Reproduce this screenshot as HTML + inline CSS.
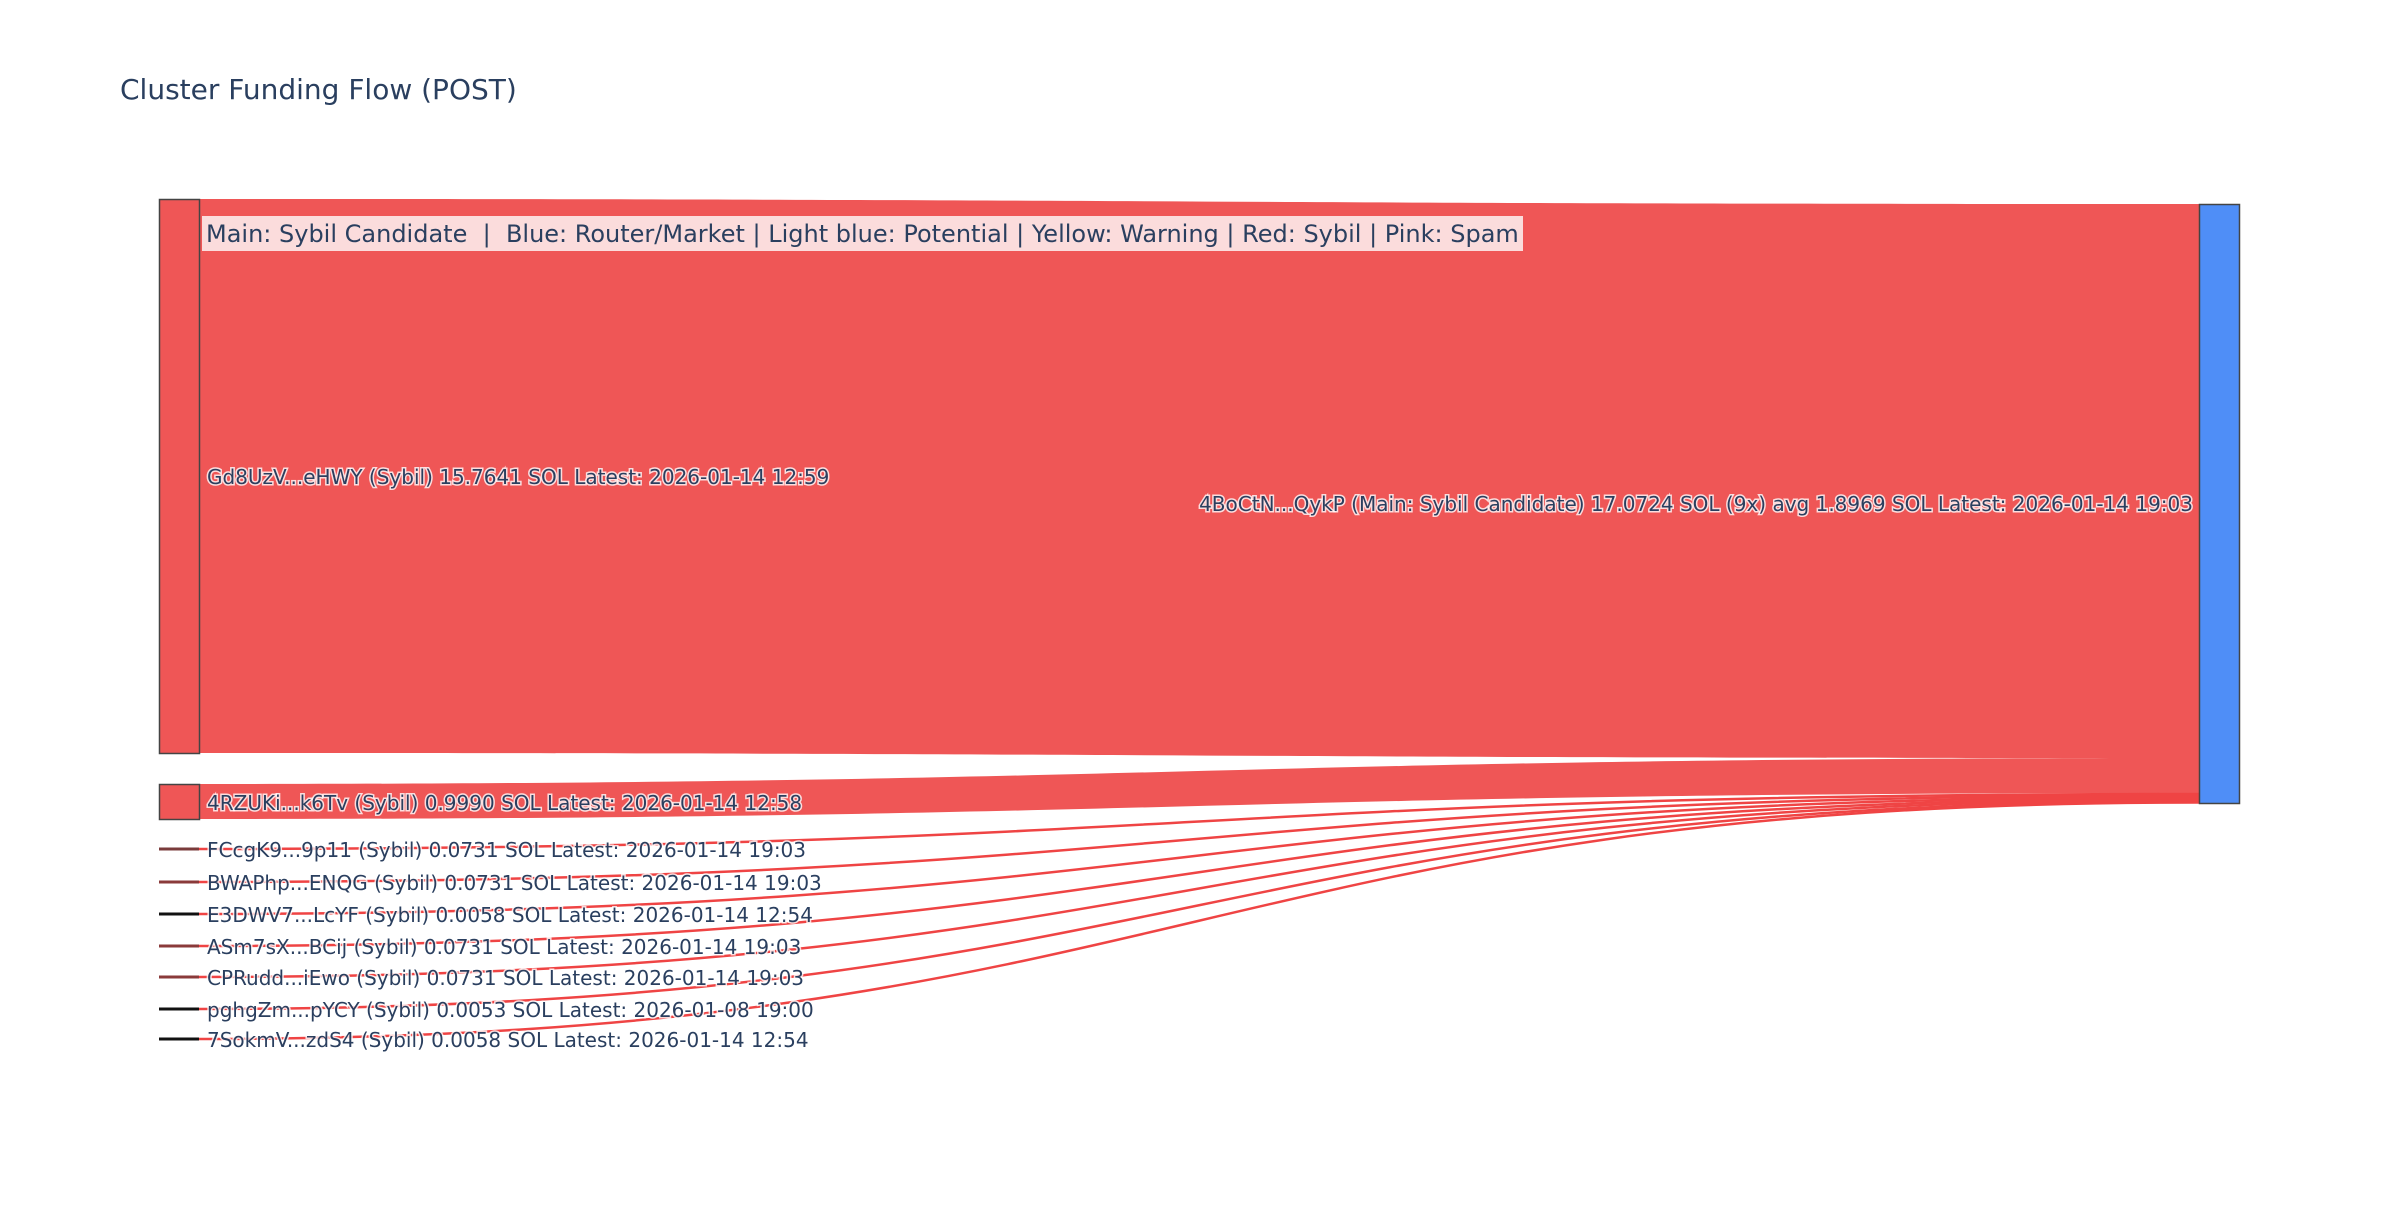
<!DOCTYPE html>
<html><head><meta charset="utf-8"><style>
html,body{margin:0;padding:0;background:#fff;}
svg text{font-family:"DejaVu Sans","Liberation Sans",sans-serif;fill:#2a3f5f;}
.lbl{font-size:20px;paint-order:stroke;stroke:rgba(255,255,255,0.8);stroke-width:3px;}
</style></head><body>
<svg width="2400" height="1200" viewBox="0 0 2400 1200" xmlns="http://www.w3.org/2000/svg">
<rect width="2400" height="1200" fill="#fff"/>
<text x="120" y="99" style="font-size:28px">Cluster Funding Flow (POST)</text>
<g fill="#ef5656" stroke="none">
<path d="M199,199 C1199,199 1199,204 2199,204 L2199,758 C1199,758 1199,753 199,753 Z"/>
<path d="M199,784 C1199,784 1199,758 2199,758 L2199,793 C1199,793 1199,819 199,819 Z"/>
</g>
<g fill="none" stroke="#ef4444" stroke-width="2.5">
<path d="M199,849 C1199,849 1199,794 2199,794"/>
<path d="M199,882 C1199,882 1199,795.5 2199,795.5"/>
<path d="M199,914 C1199,914 1199,797 2199,797"/>
<path d="M199,946 C1199,946 1199,798.5 2199,798.5"/>
<path d="M199,977 C1199,977 1199,800 2199,800"/>
<path d="M199,1009 C1199,1009 1199,801.5 2199,801.5"/>
<path d="M199,1039 C1199,1039 1199,802.5 2199,802.5"/>
</g>
<rect x="159.5" y="199.5" width="40" height="554" fill="#ef5656" stroke="#444" stroke-width="1.5"/>
<rect x="159.5" y="784.5" width="40" height="35" fill="#ef5656" stroke="#444" stroke-width="1.5"/>
<rect x="2199.5" y="204.5" width="40" height="599" fill="#4f8ef7" stroke="#444" stroke-width="1.5"/>
<g stroke-width="3">
<line x1="159" y1="849" x2="199" y2="849" stroke="#7a3b3b"/>
<line x1="159" y1="882" x2="199" y2="882" stroke="#8a3a3a"/>
<line x1="159" y1="914" x2="199" y2="914" stroke="#111"/>
<line x1="159" y1="946" x2="199" y2="946" stroke="#8a3a3a"/>
<line x1="159" y1="977" x2="199" y2="977" stroke="#8a3a3a"/>
<line x1="159" y1="1009" x2="199" y2="1009" stroke="#111"/>
<line x1="159" y1="1039" x2="199" y2="1039" stroke="#111"/>
</g>
<rect x="202" y="216" width="1321" height="35" fill="#fbdcdc"/>
<text x="206" y="242" style="font-size:24px">Main: Sybil Candidate&#160;&#160;|&#160;&#160;Blue: Router/Market | Light blue: Potential | Yellow: Warning | Red: Sybil | Pink: Spam</text>
<text class="lbl" x="207" y="484">Gd8UzV...eHWY (Sybil) 15.7641 SOL Latest: 2026-01-14 12:59</text>
<text class="lbl" x="2193" y="511" text-anchor="end">4BoCtN...QykP (Main: Sybil Candidate) 17.0724 SOL (9x) avg 1.8969 SOL Latest: 2026-01-14 19:03</text>
<text class="lbl" x="207" y="810">4RZUKi...k6Tv (Sybil) 0.9990 SOL Latest: 2026-01-14 12:58</text>
<text class="lbl" x="207" y="857">FCcgK9...9p11 (Sybil) 0.0731 SOL Latest: 2026-01-14 19:03</text>
<text class="lbl" x="207" y="890">BWAPhp...ENQG (Sybil) 0.0731 SOL Latest: 2026-01-14 19:03</text>
<text class="lbl" x="207" y="922">E3DWV7...LcYF (Sybil) 0.0058 SOL Latest: 2026-01-14 12:54</text>
<text class="lbl" x="207" y="954">ASm7sX...BCij (Sybil) 0.0731 SOL Latest: 2026-01-14 19:03</text>
<text class="lbl" x="207" y="985">CPRudd...iEwo (Sybil) 0.0731 SOL Latest: 2026-01-14 19:03</text>
<text class="lbl" x="207" y="1017">pghgZm...pYCY (Sybil) 0.0053 SOL Latest: 2026-01-08 19:00</text>
<text class="lbl" x="207" y="1047">7SokmV...zdS4 (Sybil) 0.0058 SOL Latest: 2026-01-14 12:54</text>
</svg>
</body></html>
